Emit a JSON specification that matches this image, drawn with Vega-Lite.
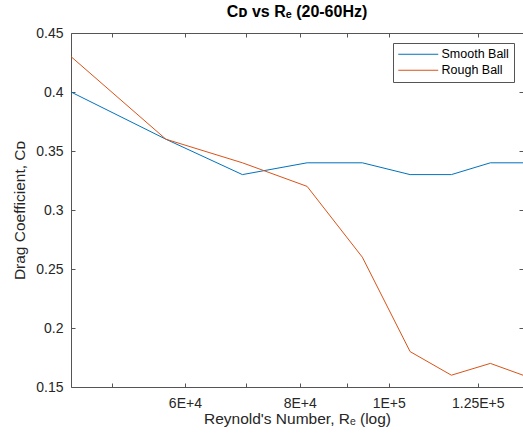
{
  "$schema": "https://vega.github.io/schema/vega-lite/v6.json",
  "width": 452,
  "height": 354,
  "autosize": {"type": "none"},
  "padding": {"left": 71, "top": 33, "right": 0, "bottom": 50},
  "background": "white",
  "config": {
    "view": {"stroke": null},
    "font": "Liberation Sans",
    "axis": {
      "grid": false,
      "domainColor": "#555555",
      "domainWidth": 1,
      "tickColor": "#555555",
      "tickWidth": 1,
      "tickSize": -4,
      "labelColor": "#262626",
      "labelFont": "Liberation Sans",
      "labelFontSize": 14,
      "titleColor": "#262626",
      "titleFont": "Liberation Sans",
      "titleFontSize": 15.5,
      "titleFontWeight": "normal"
    }
  },
  "title": {
    "text": "Cᴅ vs Rₑ (20-60Hz)",
    "font": "Liberation Sans",
    "fontSize": 16,
    "fontWeight": "bold",
    "color": "#000000",
    "anchor": "middle",
    "baseline": "alphabetic",
    "frame": "group",
    "offset": -7
  },
  "data": {
    "values": [
      {"re": 45100, "cd": 0.40, "ball": "Smooth Ball"},
      {"re": 57200, "cd": 0.36, "ball": "Smooth Ball"},
      {"re": 69300, "cd": 0.33, "ball": "Smooth Ball"},
      {"re": 81500, "cd": 0.34, "ball": "Smooth Ball"},
      {"re": 93600, "cd": 0.34, "ball": "Smooth Ball"},
      {"re": 105500, "cd": 0.33, "ball": "Smooth Ball"},
      {"re": 117000, "cd": 0.33, "ball": "Smooth Ball"},
      {"re": 129000, "cd": 0.34, "ball": "Smooth Ball"},
      {"re": 140000, "cd": 0.34, "ball": "Smooth Ball"},
      {"re": 45100, "cd": 0.43, "ball": "Rough Ball"},
      {"re": 57200, "cd": 0.36, "ball": "Rough Ball"},
      {"re": 69300, "cd": 0.34, "ball": "Rough Ball"},
      {"re": 81500, "cd": 0.32, "ball": "Rough Ball"},
      {"re": 93600, "cd": 0.26, "ball": "Rough Ball"},
      {"re": 105500, "cd": 0.18, "ball": "Rough Ball"},
      {"re": 117000, "cd": 0.16, "ball": "Rough Ball"},
      {"re": 129000, "cd": 0.17, "ball": "Rough Ball"},
      {"re": 140000, "cd": 0.16, "ball": "Rough Ball"}
    ]
  },
  "layer": [
    {
      "mark": {"type": "line", "strokeWidth": 1, "clip": true},
      "encoding": {
        "x": {
          "field": "re",
          "type": "quantitative",
          "scale": {"type": "log", "domain": [45100, 140000], "nice": false},
          "axis": {
            "orient": "bottom",
            "values": [50000, 60000, 70000, 80000, 90000, 100000, 125000],
            "labelExpr": "datum.value == 60000 ? '6E+4' : datum.value == 80000 ? '8E+4' : datum.value == 100000 ? '1E+5' : datum.value == 125000 ? '1.25E+5' : ''",
            "labelPadding": 13,
            "title": "Reynold's Number, Rₑ (log)",
            "titlePadding": 1
          }
        },
        "y": {
          "field": "cd",
          "type": "quantitative",
          "scale": {"domain": [0.15, 0.45], "nice": false, "zero": false},
          "axis": {
            "orient": "left",
            "values": [0.15, 0.2, 0.25, 0.3, 0.35, 0.4, 0.45],
            "format": "~g",
            "labelPadding": 12,
            "title": "Drag Coefficient, Cᴅ",
            "titlePadding": 8
          }
        },
        "color": {
          "field": "ball",
          "type": "nominal",
          "scale": {"domain": ["Smooth Ball", "Rough Ball"], "range": ["#0072BD", "#D95319"]},
          "legend": {
            "title": null,
            "orient": "none",
            "legendX": 322,
            "legendY": 10,
            "direction": "vertical",
            "symbolType": "M-1.2,0H6.8",
            "symbolSize": 100,
            "symbolStrokeWidth": 1,
            "labelOffset": 31,
            "labelFont": "Liberation Sans",
            "labelFontSize": 12.5,
            "labelColor": "#000000",
            "rowPadding": 3,
            "padding": 5,
            "strokeColor": "#555555",
            "fillColor": "white"
          }
        }
      }
    },
    {
      "mark": {"type": "point", "opacity": 0},
      "encoding": {
        "x": {
          "field": "re",
          "type": "quantitative",
          "scale": {"type": "log", "domain": [45100, 140000], "nice": false},
          "axis": {
            "orient": "top",
            "values": [50000, 60000, 70000, 80000, 90000, 100000, 125000],
            "labels": false,
            "title": null,
            "minExtent": 0,
            "maxExtent": 0
          }
        },
        "y": {
          "field": "cd",
          "type": "quantitative",
          "scale": {"domain": [0.15, 0.45], "nice": false, "zero": false},
          "axis": {
            "orient": "right",
            "values": [0.15, 0.2, 0.25, 0.3, 0.35, 0.4, 0.45],
            "labels": false,
            "title": null,
            "minExtent": 0,
            "maxExtent": 0
          }
        }
      }
    }
  ],
  "resolve": {"axis": {"x": "independent", "y": "independent"}}
}
